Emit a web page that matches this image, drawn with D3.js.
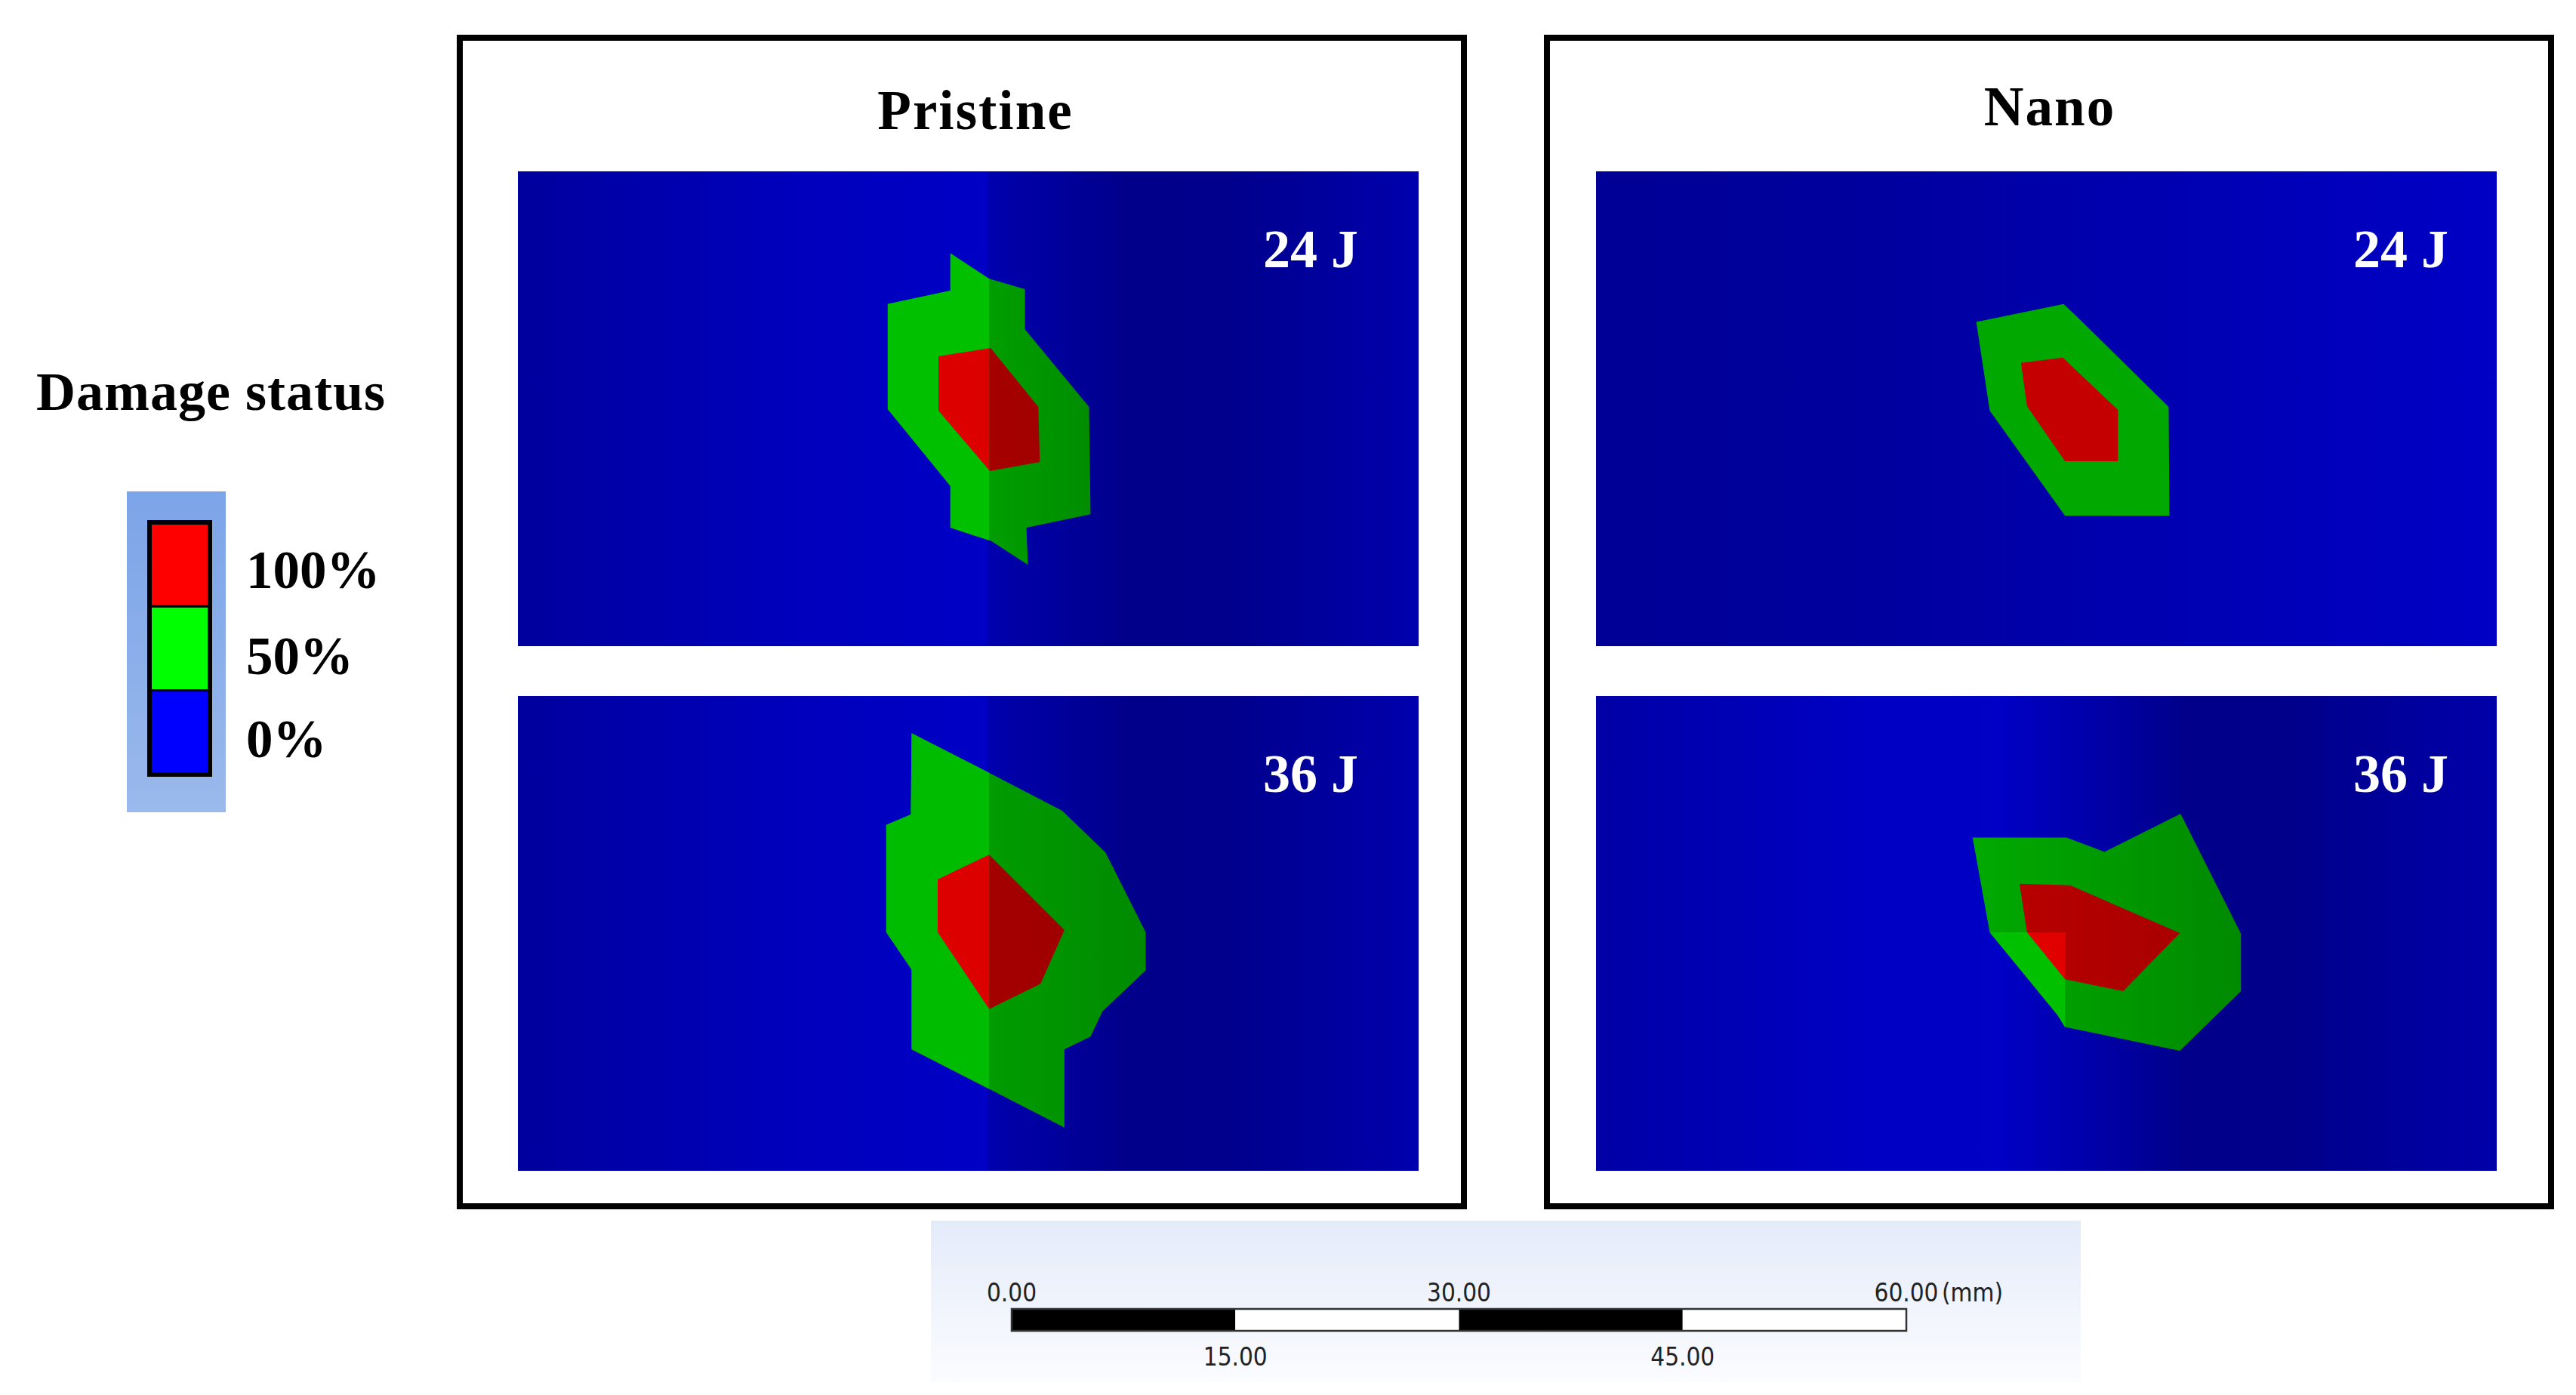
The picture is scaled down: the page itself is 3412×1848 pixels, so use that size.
<!DOCTYPE html>
<html>
<head>
<meta charset="utf-8">
<script src="https://cdn.jsdelivr.net/npm/d3@7"></script>
<style>
  body { margin: 0; background: #fff; }
  svg { display: block; }
</style>
</head>
<body>
<svg id="chart"></svg>
<script>
// ---- data ----
const groups = ["Pristine", "Nano"];
const energies = ["24 J", "36 J"];
const legendTitle = "Damage status";
const legendLevels = ["100%", "50%", "0%"];
const scaleTicks = [0, 15, 30, 45, 60];
const scaleUnit = "(mm)";

// plate size in mm
const plateW = 60.4, plateH = 31.85;

// damage contours, [x mm, y mm] from the plate's top-left corner
const pristine24Half = [[29.0, 5.5], [31.6, 7.2], [34.0, 7.9], [34.0, 10.6], [38.3, 15.8], [38.4, 23.0],
  [34.1, 23.9], [34.2, 26.4], [31.75, 24.8], [29.0, 23.9], [29.0, 21.1], [24.8, 15.95], [24.8, 8.9], [29.0, 8.0]];
const pristine24Full = [[28.2, 12.4], [31.7, 11.85], [34.9, 15.8], [35.0, 19.5], [31.65, 20.1], [28.2, 16.05]];

const pristine36Half = [[26.4, 2.5], [31.6, 5.15], [36.5, 7.7], [39.4, 10.5], [42.1, 15.85], [42.1, 18.4],
  [39.2, 21.15], [38.4, 22.85], [36.65, 23.7], [36.65, 28.95], [31.6, 26.35], [26.4, 23.7], [26.4, 18.35],
  [24.7, 15.85], [24.7, 8.65], [26.35, 7.95]];
const pristine36Full = [[28.15, 12.3], [31.6, 10.65], [36.65, 15.7], [35.05, 19.3], [31.6, 21.0], [28.15, 15.85]];

const nano24Half = [[25.5, 10.1], [31.35, 8.9], [32.2, 9.7], [38.4, 15.8], [38.45, 23.1], [31.45, 23.1], [26.4, 16.05]];
const nano24Full = [[28.5, 12.85], [31.3, 12.5], [35.0, 16.0], [35.0, 19.45], [31.45, 19.45], [28.9, 15.75]];

const nano36Half = [[25.25, 9.5], [31.55, 9.5], [34.1, 10.45], [39.2, 7.9], [43.25, 15.95], [43.25, 19.8],
  [39.15, 23.8], [31.45, 22.2], [30.95, 21.4], [26.4, 15.85]];
const nano36Full = [[28.4, 12.6], [31.8, 12.7], [39.15, 15.9], [35.35, 19.8], [31.45, 19.0], [28.9, 15.85]];

const contours = [
  [{ half: pristine24Half, full: pristine24Full }, { half: pristine36Half, full: pristine36Full }],
  [{ half: nano24Half, full: nano24Full }, { half: nano36Half, full: nano36Full }]
];

// ---- layout / style ----
const W = 3412, H = 1848;
const panelW = 1193, panelH = 629;
const colX = [686, 2114];
const rowY = [227, 922];
const boxX = [609, 2049], boxW = 1330, boxY = 50, boxH = 1548;
const titleX = [1292, 2715], titleY = [171, 166];
const labelDX = [1050, 1066], labelDY = 127;

// shading per panel: background stops, lit region (x < foldX, y > foldY),
// shaded fills run as a gradient over [from, to] mm
const shading = [
  [
    { bg: [[0, "#00009e"], [0.3, "#0000bc"], [0.52, "#0000c6"], [0.523, "#0000ae"], [0.68, "#00008a"], [0.8, "#00008e"], [1, "#0000ae"]],
      fold: [31.6, 0], span: [31.6, 39],
      half: [["#009e00", "#008c00"], "#00c000"], full: [["#a60000", "#9e0000"], "#dc0000"] },
    { bg: [[0, "#00009e"], [0.3, "#0000bc"], [0.52, "#0000c6"], [0.523, "#0000ae"], [0.68, "#00008a"], [0.8, "#00008e"], [1, "#0000ae"]],
      fold: [31.6, 0], span: [31.6, 42],
      half: [["#009c00", "#008a00"], "#00bc00"], full: [["#a40000", "#9c0000"], "#dc0000"] }
  ],
  [
    { bg: [[0, "#000096"], [0.3, "#00009e"], [0.6, "#0000b0"], [1, "#0000c6"]],
      fold: null, span: [25, 39],
      half: [["#00a800", "#00a800"], null], full: [["#c40000", "#c40000"], null] },
    { bg: [[0, "#0000a6"], [0.3, "#0000c4"], [0.45, "#0000c6"], [0.66, "#00008a"], [0.78, "#00008c"], [1, "#0000aa"]],
      fold: [31.45, 15.85], span: [25, 43],
      half: [["#00aa00", "#008a00"], "#00c000"], full: [["#bc0000", "#a40000"], "#e00000"] }
  ]
];

const serif = "'Liberation Serif', 'Times New Roman', serif";
const narrow = "'Liberation Sans Narrow', 'DejaVu Sans Condensed', 'DejaVu Sans', sans-serif";

const svg = d3.select("#chart").attr("width", W).attr("height", H);
svg.append("rect").attr("width", W).attr("height", H).attr("fill", "#fff");
const defs = svg.append("defs");

const x = d3.scaleLinear().domain([0, plateW]).range([0, panelW]);
const y = d3.scaleLinear().domain([0, plateH]).range([0, panelH]);
const outline = d3.line().x(d => x(d[0])).y(d => y(d[1])).curve(d3.curveLinearClosed);

function shadeGradient(id, colors, span) {
  const gr = defs.append("linearGradient").attr("id", id)
    .attr("gradientUnits", "userSpaceOnUse")
    .attr("x1", x(span[0])).attr("x2", x(span[1])).attr("y1", 0).attr("y2", 0);
  gr.append("stop").attr("offset", 0).attr("stop-color", colors[0]);
  gr.append("stop").attr("offset", 1).attr("stop-color", colors[1]);
  return `url(#${id})`;
}

// ---- group boxes ----
groups.forEach((name, gi) => {
  svg.append("rect")
    .attr("x", boxX[gi]).attr("y", boxY)
    .attr("width", boxW).attr("height", boxH)
    .attr("fill", "none").attr("stroke", "#000").attr("stroke-width", 8);

  svg.append("text")
    .attr("x", titleX[gi]).attr("y", titleY[gi])
    .attr("text-anchor", "middle")
    .style("font-family", serif).style("font-weight", "bold").style("font-size", "73px")
    .style("letter-spacing", "2px")
    .text(name);

  energies.forEach((en, ri) => {
    const sh = shading[gi][ri];
    const id = `p${gi}${ri}`;
    const g = svg.append("g").attr("transform", `translate(${colX[gi]},${rowY[ri]})`);

    const grad = defs.append("linearGradient").attr("id", id + "bg")
      .attr("x1", 0).attr("x2", 1).attr("y1", 0).attr("y2", 0);
    sh.bg.forEach(s => grad.append("stop").attr("offset", s[0]).attr("stop-color", s[1]));

    g.append("rect").attr("width", panelW).attr("height", panelH).attr("fill", `url(#${id}bg)`);

    const c = contours[gi][ri];
    g.append("path").attr("d", outline(c.half)).attr("fill", shadeGradient(id + "h", sh.half[0], sh.span));
    g.append("path").attr("d", outline(c.full)).attr("fill", shadeGradient(id + "f", sh.full[0], sh.span));

    if (sh.fold) {
      defs.append("clipPath").attr("id", id + "lit")
        .append("rect")
        .attr("x", 0).attr("y", y(sh.fold[1]))
        .attr("width", x(sh.fold[0])).attr("height", panelH - y(sh.fold[1]));
      const lit = g.append("g").attr("clip-path", `url(#${id}lit)`);
      lit.append("path").attr("d", outline(c.half)).attr("fill", sh.half[1]);
      lit.append("path").attr("d", outline(c.full)).attr("fill", sh.full[1]);
    }

    g.append("text")
      .attr("x", labelDX[gi]).attr("y", labelDY)
      .attr("text-anchor", "middle")
      .attr("fill", "#fff")
      .style("font-family", serif).style("font-weight", "bold").style("font-size", "72px")
      .text(en);
  });
});

// ---- legend ----
svg.append("text")
  .attr("x", 48).attr("y", 543)
  .style("font-family", serif).style("font-weight", "bold").style("font-size", "72px")
  .style("letter-spacing", "1px")
  .text(legendTitle);

const lgGrad = defs.append("linearGradient").attr("id", "lgbg")
  .attr("x1", 0).attr("x2", 0).attr("y1", 0).attr("y2", 1);
lgGrad.append("stop").attr("offset", 0).attr("stop-color", "#7ca4e8");
lgGrad.append("stop").attr("offset", 1).attr("stop-color", "#9ab9ec");
svg.append("rect").attr("x", 168).attr("y", 651).attr("width", 131).attr("height", 425).attr("fill", "url(#lgbg)");

const levelColor = d3.scaleOrdinal().domain(legendLevels).range(["#ff0000", "#00ff00", "#0000ff"]);
const ly = d3.scaleBand().domain(legendLevels).range([692, 1026]);
const lgLabelY = [779, 893, 1003];

svg.selectAll(".lg-cell")
  .data(legendLevels)
  .enter().append("rect")
  .attr("class", "lg-cell")
  .attr("x", 198).attr("y", d => ly(d))
  .attr("width", 80).attr("height", ly.bandwidth())
  .attr("fill", d => levelColor(d))
  .attr("stroke", "#000").attr("stroke-width", 3);

svg.append("rect").attr("x", 198).attr("y", 692).attr("width", 80).attr("height", 334)
  .attr("fill", "none").attr("stroke", "#000").attr("stroke-width", 6);

svg.selectAll(".lg-label")
  .data(legendLevels)
  .enter().append("text")
  .attr("class", "lg-label")
  .attr("x", 326).attr("y", (d, i) => lgLabelY[i])
  .style("font-family", serif).style("font-weight", "bold").style("font-size", "71px")
  .text(d => d);

// ---- scale bar ----
const sbGrad = defs.append("linearGradient").attr("id", "sbbg")
  .attr("x1", 0).attr("x2", 0).attr("y1", 0).attr("y2", 1);
sbGrad.append("stop").attr("offset", 0).attr("stop-color", "#e4ebf9");
sbGrad.append("stop").attr("offset", 1).attr("stop-color", "#fbfcff");
svg.append("rect").attr("x", 1233).attr("y", 1617).attr("width", 1523).attr("height", 214).attr("fill", "url(#sbbg)");

const sx = d3.scaleLinear().domain([0, 60]).range([1340, 2525]);
const segs = d3.pairs(scaleTicks);
svg.selectAll(".sb-seg")
  .data(segs)
  .enter().append("rect")
  .attr("class", "sb-seg")
  .attr("x", d => sx(d[0])).attr("y", 1734)
  .attr("width", d => sx(d[1]) - sx(d[0])).attr("height", 29)
  .attr("fill", (d, i) => i % 2 === 0 ? "#000" : "#fff");
svg.append("rect").attr("x", sx(0)).attr("y", 1734).attr("width", sx(60) - sx(0)).attr("height", 29)
  .attr("fill", "none").attr("stroke", "#333").attr("stroke-width", 2.5);

svg.selectAll(".sb-label")
  .data(scaleTicks)
  .enter().append("text")
  .attr("class", "sb-label")
  .attr("x", d => sx(d))
  .attr("y", (d, i) => i % 2 === 0 ? 1724 : 1809)
  .attr("text-anchor", "middle")
  .attr("fill", "#222")
  .style("font-family", narrow).style("font-size", "33px")
  .text(d => d3.format(".2f")(d));

svg.append("text")
  .attr("x", sx(60) + 47).attr("y", 1724)
  .attr("fill", "#222")
  .style("font-family", narrow).style("font-size", "33px")
  .text(scaleUnit);
</script>
</body>
</html>
